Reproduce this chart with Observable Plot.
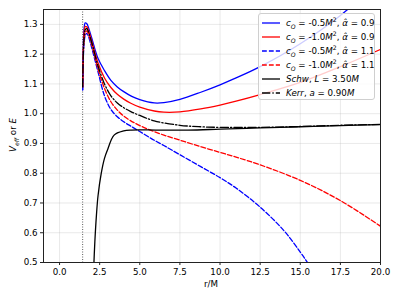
<!DOCTYPE html>
<html>
<head>
<meta charset="utf-8">
<script src="https://cdn.jsdelivr.net/npm/d3@7"></script>
<script src="https://cdn.jsdelivr.net/npm/@observablehq/plot@0.6"></script>
<style>
  html, body { margin: 0; padding: 0; background: white; }
  #wrap { position: relative; width: 399px; height: 299px; font-family: "DejaVu Sans", sans-serif; color: #000; }
  #legend { position: absolute; left: 258px; top: 13px; width: 117px; height: 87px; box-sizing: border-box;
            background: rgba(255,255,255,0.8); border: 1px solid #cfcfcf; border-radius: 3px; font-size: 8.7px; }
  .row { position: absolute; left: 3px; height: 12px; display: flex; align-items: center; white-space: nowrap; }
  .row svg { width: 18px; height: 8px; margin-right: 6px; }
  .ylab { position: absolute; left: 13px; top: 135px; transform: translate(-50%, -50%) rotate(-90deg); font-size: 8.7px; white-space: nowrap; }
  .xlab { position: absolute; left: 211px; top: 284px; transform: translate(-50%, -50%); font-size: 8.7px; }
  sub, sup { font-size: 70%; line-height: 0; }
</style>
</head>
<body>
<div id="wrap"></div>
<script>
// ---- data ----
const xTicks = [0, 2.5, 5, 7.5, 10, 12.5, 15, 17.5, 20];
const yTicks = [0.5, 0.6, 0.7, 0.8, 0.9, 1.0, 1.1, 1.2, 1.3];
const horizon = [1.44];

const rBlueSolid = [1.44, 1.47, 1.52, 1.6, 1.7, 1.8, 2.0, 2.4, 2.8, 3.2, 3.6, 4.0, 4.5, 5.0, 5.9, 6.5, 7.5, 8.8, 10, 11, 12.5, 15, 17.5, 20];
const vBlueSolid = [1.08, 1.20, 1.28, 1.305, 1.302, 1.29, 1.255, 1.185, 1.145, 1.112, 1.09, 1.074, 1.058, 1.047, 1.036, 1.037, 1.048, 1.072, 1.097, 1.12, 1.158, 1.235, 1.33, 1.45];

const rRedSolid = [1.44, 1.47, 1.52, 1.6, 1.7, 1.8, 2.0, 2.4, 2.8, 3.2, 3.6, 4.0, 4.44, 5.0, 5.9, 6.5, 7.5, 8.8, 10, 11, 12.5, 15, 17.5, 20];
const vRedSolid = [1.09, 1.19, 1.265, 1.293, 1.292, 1.28, 1.245, 1.17, 1.12, 1.088, 1.065, 1.049, 1.035, 1.022, 1.009, 1.005, 1.006, 1.016, 1.029, 1.042, 1.064, 1.105, 1.158, 1.216];

const rBlueDash = [1.44, 1.47, 1.52, 1.6, 1.7, 1.8, 2.0, 2.4, 2.8, 3.2, 3.6, 4.0, 4.44, 5.0, 5.7, 6.5, 7.5, 8.8, 10, 11, 12.5, 14, 15, 15.45, 16];
const vBlueDash = [1.08, 1.16, 1.23, 1.262, 1.27, 1.26, 1.222, 1.14, 1.06, 1.014, 0.99, 0.973, 0.958, 0.94, 0.917, 0.893, 0.862, 0.822, 0.785, 0.75, 0.686, 0.606, 0.535, 0.50, 0.455];

const rRedDash = [1.44, 1.47, 1.52, 1.6, 1.7, 1.8, 2.0, 2.4, 2.8, 3.2, 3.6, 4.0, 4.44, 5.0, 5.7, 6.5, 7.5, 8.8, 10, 11, 12.5, 15, 17.5, 20];
const vRedDash = [1.09, 1.17, 1.24, 1.272, 1.278, 1.268, 1.232, 1.15, 1.085, 1.04, 1.012, 0.992, 0.976, 0.96, 0.944, 0.928, 0.911, 0.889, 0.870, 0.854, 0.828, 0.776, 0.708, 0.622];

const rSchw = [2.12, 2.2, 2.3, 2.4, 2.6, 2.8, 3.0, 3.4, 4.0, 4.5, 5, 6, 8, 10, 12.5, 15, 17.5, 20];
const vSchw = [0.47, 0.57, 0.66, 0.725, 0.80, 0.85, 0.88, 0.928, 0.942, 0.945, 0.9455, 0.945, 0.945, 0.948, 0.952, 0.956, 0.96, 0.963];

const rKerr = [1.44, 1.47, 1.52, 1.6, 1.7, 1.8, 2.0, 2.4, 2.8, 3.2, 3.6, 4.0, 4.44, 5.0, 5.9, 7.5, 8.8, 10, 12.5, 15, 17.5, 20];
const vKerr = [1.09, 1.18, 1.25, 1.282, 1.286, 1.275, 1.24, 1.16, 1.10, 1.06, 1.036, 1.02, 1.007, 0.994, 0.976, 0.961, 0.956, 0.954, 0.954, 0.957, 0.961, 0.964];

const seriesNames = ["blueSolid", "redSolid", "blueDash", "redDash", "schw", "kerr"];
const seriesColor = {blueSolid: "#0000ff", redSolid: "#ff0000", blueDash: "#0000ff", redDash: "#ff0000", schw: "#000000", kerr: "#000000"};
const seriesDash = {blueSolid: null, redSolid: null, blueDash: "4.8,2.1", redDash: "4.8,2.1", schw: null, kerr: "8.3,2.1,1.3,2.1"};
const legendLabels = [
  ["blueSolid", '<i>c<sub>O</sub></i> = -0.5<i>M</i><sup>2</sup>, <i>α̂</i> = 0.9'],
  ["redSolid",  '<i>c<sub>O</sub></i> = -1.0<i>M</i><sup>2</sup>, <i>α̂</i> = 0.9'],
  ["blueDash",  '<i>c<sub>O</sub></i> = -0.5<i>M</i><sup>2</sup>, <i>α̂</i> = 1.1'],
  ["redDash",   '<i>c<sub>O</sub></i> = -1.0<i>M</i><sup>2</sup>, <i>α̂</i> = 1.1'],
  ["schw",      '<i>Schw</i>, <i>L</i> = 3.50<i>M</i>'],
  ["kerr",      '<i>Kerr</i>, <i>a</i> = 0.90<i>M</i>']
];

const series = {
  blueSolid: [rBlueSolid, vBlueSolid],
  redSolid: [rRedSolid, vRedSolid],
  blueDash: [rBlueDash, vBlueDash],
  redDash: [rRedDash, vRedDash],
  schw: [rSchw, vSchw],
  kerr: [rKerr, vKerr]
};

const lineMarks = seriesNames.map(name => {
  const [rs, vs] = series[name];
  const data = rs.map((r, i) => ({r, v: vs[i]}));
  return Plot.line(data, {
    x: "r", y: "v", stroke: seriesColor[name], strokeWidth: 1.3,
    strokeDasharray: seriesDash[name], curve: "catmull-rom", clip: true
  });
});

const chart = Plot.plot({
  width: 399, height: 299,
  marginLeft: 43, marginRight: 19, marginTop: 9, marginBottom: 37,
  style: {fontFamily: "DejaVu Sans", fontSize: "8.7px", background: "white", color: "black"},
  x: {domain: [-1, 20], label: null},
  y: {domain: [0.5, 1.35], label: null},
  marks: [
    Plot.gridX(xTicks, {stroke: "#b0b0b0", strokeOpacity: 0.35, strokeWidth: 0.8}),
    Plot.gridY(yTicks, {stroke: "#b0b0b0", strokeOpacity: 0.35, strokeWidth: 0.8}),
    Plot.ruleX(horizon, {stroke: "#333", strokeWidth: 0.8, strokeDasharray: "1,1.5"}),
    ...lineMarks,
    Plot.frame({stroke: "#222", strokeWidth: 1}),
    Plot.axisX(xTicks, {tickSize: 3, tickPadding: 3, tickFormat: d => d.toFixed(1), label: null, stroke: "#222"}),
    Plot.axisY(yTicks, {tickSize: 3, tickPadding: 3, tickFormat: d => d.toFixed(1), label: null, stroke: "#222"})
  ]
});

const wrap = document.getElementById("wrap");
wrap.appendChild(chart);

// axis labels
const yl = document.createElement("div");
yl.className = "ylab";
yl.innerHTML = '<i>V</i><sub><i>eff</i></sub> or <i>E</i>';
wrap.appendChild(yl);
const xl = document.createElement("div");
xl.className = "xlab";
xl.textContent = "r/M";
wrap.appendChild(xl);

// legend
const leg = document.createElement("div");
leg.id = "legend";
legendLabels.forEach(([name, html], i) => {
  const row = document.createElement("div");
  row.className = "row";
  row.style.top = (3 + i * 14) + "px";
  const dash = seriesDash[name] ? `stroke-dasharray="${seriesDash[name]}"` : "";
  row.innerHTML = `<svg viewBox="0 0 18 8"><line x1="0" y1="4" x2="18" y2="4" stroke="${seriesColor[name]}" stroke-width="1.3" ${dash}/></svg><span>${html}</span>`;
  leg.appendChild(row);
});
wrap.appendChild(leg);
</script>
</body>
</html>
